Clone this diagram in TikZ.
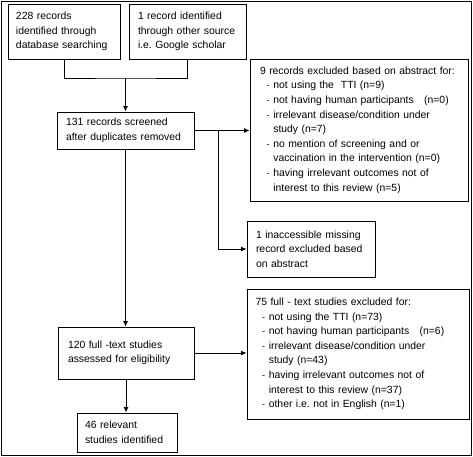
\documentclass[tikz,border=0pt]{standalone}
\usepackage{fontspec}
\setmainfont{Liberation Sans}
\usetikzlibrary{arrows.meta}
\frenchspacing
\newcommand{\dashitem}[1]{\hspace*{6.5pt}\makebox[6.8pt][l]{\fontsize{9}{9}\selectfont -}#1}
\newcommand{\contline}[1]{\hspace*{13.3pt}#1}
\tikzset{
  box/.style={draw, line width=0.9pt, align=left, inner ysep=0pt, anchor=center,
    font=\fontsize{10.4}{14.6}\selectfont\frenchspacing},
  conn/.style={line width=0.9pt},
  arr/.style={line width=0.9pt, -{Latex[length=5.5pt,width=5pt]}}
}
\begin{document}
\begin{tikzpicture}[x=1pt,y=-1pt]
\useasboundingbox (0,0) rectangle (473,456);
\draw[line width=0.9pt] (1,1) rectangle (471.5,455);

\node[box, minimum width=112pt, minimum height=55pt, inner xsep=8pt, text width=96pt] (b1) at (64,31.5)
  {228 records\\identified through\\database searching};
\node[box, minimum width=117pt, minimum height=55pt, inner xsep=9pt, text width=99pt] (b2) at (187.5,31.5)
  {1 record identified\\through other source\\i.e. Google scholar};
\node[box, minimum width=137pt, minimum height=37pt, inner xsep=9pt, text width=119pt] (b3) at (125.5,130.5)
  {131 records screened\\after duplicates removed};
\node[box, minimum width=218pt, minimum height=142pt, inner xsep=10pt, text width=198pt] (b9) at (359,130)
  {9 records excluded based on abstract for:\\
   \dashitem{not using the\ \ TTI (n=9)}\\
   \dashitem{not having human participants\ \ \ (n=0)}\\
   \dashitem{irrelevant disease/condition under}\\
   \contline{study (n=7)}\\
   \dashitem{no mention of screening and or}\\
   \contline{vaccination in the intervention (n=0)}\\
   \dashitem{having irrelevant outcomes not of}\\
   \contline{interest to this review (n=5)}};
\node[box, minimum width=128pt, minimum height=56pt, inner xsep=9pt, text width=110pt] (bin) at (311,249)
  {1 inaccessible missing\\record excluded based\\on abstract};
\node[box, minimum width=136pt, minimum height=52pt, inner xsep=10pt, text width=116pt] (b120) at (126,353)
  {120 full -text studies\\assessed for eligibility};
\node[box, minimum width=222pt, minimum height=130pt, inner xsep=8.5pt, text width=205pt] (b75) at (358,354)
  {75 full - text studies excluded for:\\
   \dashitem{not using the TTI (n=73)}\\
   \dashitem{not having human participants\ \ \ (n=6)}\\
   \dashitem{irrelevant disease/condition under}\\
   \contline{study (n=43)}\\
   \dashitem{having irrelevant outcomes not of}\\
   \contline{interest to this review (n=37)}\\
   \dashitem{other i.e. not in English (n=1)}};
\node[box, minimum width=100pt, minimum height=39pt, inner xsep=8pt, text width=84pt] (b46) at (127,432.5)
  {46 relevant\\studies identified};

\coordinate (jn) at (125.5,78);
\coordinate (br) at (218,130.5);
\draw[conn] (b1.south) |- (jn) -| (b2.south);
\draw[arr] (jn) -- (b3.north);
\draw[arr] (b3.east) -- (b3.east -| b9.west);
\draw[arr] (br) |- (bin.west);
\draw[arr] (b3.south) -- (b3.south |- b120.north);
\draw[arr] (b120.east) -- (b120.east -| b75.west);
\draw[arr] (b120.south) -- (b120.south |- b46.north);
\end{tikzpicture}
\end{document}
